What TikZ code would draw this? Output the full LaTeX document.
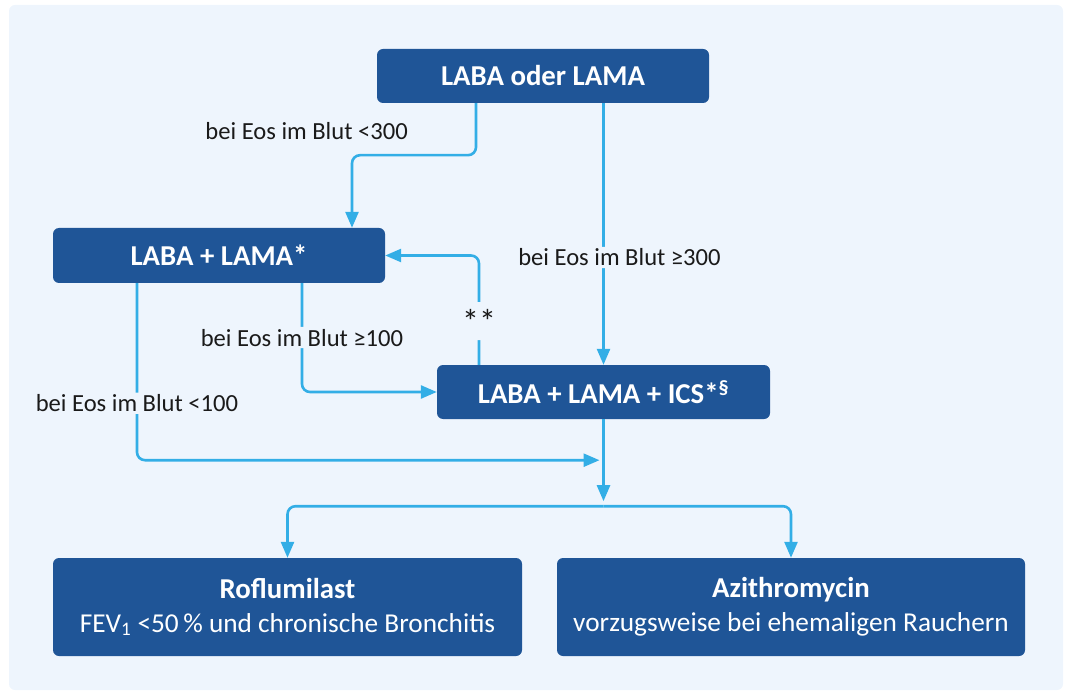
\documentclass[tikz,border=0pt]{standalone}
\usepackage{fontspec}
\setmainfont{Carlito}
\usetikzlibrary{arrows.meta}

\definecolor{boxblue}{HTML}{1F5597}
\definecolor{flowblue}{HTML}{33AEE6}
\definecolor{bgblue}{HTML}{EEF5FD}
\definecolor{lbltext}{HTML}{1A1A1A}

\tikzset{
  drug/.style={rectangle, rounded corners=6pt, fill=boxblue, text=white,
    font=\fontsize{28.8}{33}\selectfont\bfseries, inner sep=0pt},
  flow/.style={draw=flowblue, line width=2.6pt, rounded corners=8pt,
    -{Triangle[length=16pt,width=13pt]}},
  lbl/.style={font=\fontsize{24.6}{28}\selectfont, text=lbltext, inner sep=2pt}
}

\begin{document}
\begin{tikzpicture}[x=1pt, y=-1pt]

        \useasboundingbox (0,0) rectangle (1065,692);
        \fill[bgblue, rounded corners=6pt] (9,5) rectangle (1063,690);

        \begin{scope}[every node/.style={drug}]
          \node[minimum width=332pt, minimum height=54pt] (mono)  at (543,76)    {LABA oder LAMA};
          \node[minimum width=332pt, minimum height=55pt] (dual)  at (219,255.5) {LABA + LAMA*};
          \node[minimum width=333pt, minimum height=54pt] (triple) at (603.5,392) {LABA + LAMA + ICS*\textsuperscript{§}};
          \node[minimum width=469pt, minimum height=98pt, align=center,
                font=\fontsize{27.3}{34}\selectfont] (roflu) at (287.5,607)
                {\textbf{\fontsize{28.8}{34}\selectfont Roflumilast}\\FEV\textsubscript{1} <50\,\% und chronische Bronchitis};
          \node[minimum width=468pt, minimum height=98pt, align=center,
                font=\fontsize{27.3}{34}\selectfont] (azithro) at (791,607)
                {\textbf{\fontsize{28.8}{34}\selectfont Azithromycin}\\vorzugsweise bei ehemaligen Rauchern};
        \end{scope}

        \coordinate (join)  at ([yshift=-41pt]triple.south);
        \coordinate (split) at ([yshift=-87pt]triple.south);

        % Eos-Schwellen
        \node[lbl, anchor=east] (eos300low) at (410,131) {bei Eos im Blut <300};

        \draw[flow] ([xshift=-67pt]mono.south) -- ++(0,52) -| ([xshift=133pt]dual.north);
        \draw[flow] (mono.south -| triple.north)
          -- node[lbl, fill=bgblue, pos=0.59, xshift=16pt] (eos300high) {bei Eos im Blut ≥300} (triple.north);
        \draw[flow] ([xshift=-124.5pt]triple.north)
          |- node[lbl, fill=bgblue, pos=0.2, minimum height=38pt,
                  font=\fontsize{34}{34}\selectfont] (stars) {\raisebox{-9pt}{**}} (dual.east);
        \draw[flow] ([xshift=83pt]dual.south)
          |- node[lbl, fill=bgblue, pos=0.25] (eos100high) {bei Eos im Blut ≥100} (triple.west);
        \draw[flow] ([xshift=-82pt]dual.south)
          |- node[lbl, fill=bgblue, pos=0.339] (eos100low) {bei Eos im Blut <100} ([xshift=-4pt]join);

        % Reserve
        \draw[flow] (triple.south) -- ([yshift=5pt]split);
        \draw[flow] (split) -| (roflu.north);
        \draw[flow] (split) -| (azithro.north);

      \end{tikzpicture}
\end{document}
